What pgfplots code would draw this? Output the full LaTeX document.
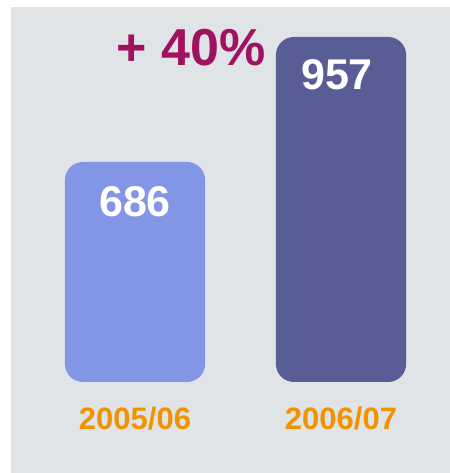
\documentclass[border=0pt]{standalone}
\usepackage{fontspec}
\setmainfont{Liberation Sans}
\usepackage{pgfplots}
\pgfplotsset{compat=1.18}
\definecolor{panel}{RGB}{224,228,231}
\definecolor{barone}{RGB}{131,150,230}
\definecolor{bartwo}{RGB}{88,93,150}
\definecolor{yearcol}{RGB}{243,146,0}
\definecolor{growcol}{RGB}{160,18,96}
\newcommand{\bigfont}[1]{\fontsize{#1}{#1}\selectfont\bfseries}
\begin{document}
\begin{tikzpicture}
\path[use as bounding box] (0,0) rectangle (450bp,473bp);
\fill[panel] (11bp,0) rectangle (450bp,466bp);
\begin{axis}[
  at={(11bp,91bp)}, anchor=south west,
  scale only axis, width=439bp, height=375bp,
  xmin=-0.602, xmax=1.529,
  ymin=209, ymax=1022,
  clip=false,
  axis line style={draw=none},
  major tick length=0pt,
  ytick=\empty,
  xtick={0,1},
  xticklabels={2005/06,2006/07},
  xticklabel style={font=\bigfont{31bp}, text=yearcol, inner sep=0pt, anchor=north, yshift=-25bp},
]
% bars: base of the value axis sits at 209
\addplot[fill=barone, draw=none, rounded corners=18bp]
  coordinates {(-0.340,209) (-0.340,686) (0.340,686) (0.340,209)} -- cycle;
\addplot[fill=bartwo, draw=none, rounded corners=18bp]
  coordinates {(0.684,209) (0.684,957) (1.316,957) (1.316,209)} -- cycle;
\node[anchor=north, inner sep=0pt, text=white, font=\bigfont{43bp}] at (axis cs:0,686) [yshift=-24bp] {686};
\node[anchor=north, inner sep=0pt, text=white, font=\bigfont{43bp}] at (axis cs:1,957) [yshift=-22bp, xshift=-4bp] {957};
\node[inner sep=0pt, text=growcol, font=\bigfont{52bp}] at (axis cs:0.272,933) {+ 40\%};
\end{axis}
\end{tikzpicture}
\end{document}
